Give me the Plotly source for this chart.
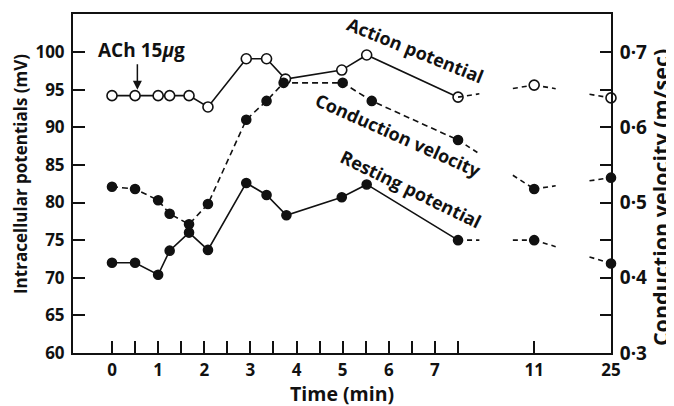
import numpy as np
import plotly.graph_objects as go

# ---------------- data ----------------
action_t = [0, 0.5, 1, 1.25, 1.67, 2.08, 2.91, 3.35, 3.76, 4.98, 5.52, 7.5, 11, 25]
action_mv = [94.2, 94.2, 94.2, 94.2, 94.2, 92.7, 99.1, 99.1, 96.4, 97.6, 99.6, 94.0, 95.6, 93.9]

cv_t = [0, 0.5, 1, 1.25, 1.67, 2.08, 2.91, 3.35, 3.72, 5.0, 5.63, 7.5, 11, 25]
cv_ms = [0.521, 0.518, 0.503, 0.485, 0.471, 0.498, 0.610, 0.635, 0.659, 0.659, 0.635, 0.583, 0.518, 0.533]

rest_t = [0, 0.5, 1, 1.25, 1.67, 2.08, 2.91, 3.35, 3.78, 4.98, 5.52, 7.5, 11, 25]
rest_mv = [72.0, 72.0, 70.4, 73.6, 76.0, 73.7, 82.6, 81.0, 78.3, 80.7, 82.4, 75.0, 75.0, 71.9]

x_tick_minutes = [0, 1, 2, 3, 4, 5, 6, 7, 11, 25]
x_tick_labels = ["0", "1", "2", "3", "4", "5", "6", "7", "11", "25"]
x_minor_minutes = [0.5, 1.5, 2.5, 3.5, 4.5, 5.5, 6.5, 7.5]
left_ticks = [60, 65, 70, 75, 80, 85, 90, 95, 100]
right_ticks = [0.3, 0.4, 0.5, 0.6, 0.7]
right_tick_labels = ["0·3", "0·4", "0·5", "0·6", "0·7"]
right_minor = [0.35, 0.45, 0.55, 0.65]

# broken time axis: linear up to 7.5 min, then compressed
BREAK_T = 7.5
def tpos(t):
    return np.interp(np.asarray(t, dtype=float), [0, 7.5, 11, 25], [0, 7.5, 9.15, 10.815])

FONT = "Open Sans"
BLACK = "#111111"

fig = go.Figure()

def add_series(t, v, yaxis, line_dash, open_marker):
    t = np.asarray(t, dtype=float)
    v = np.asarray(v, dtype=float)
    p = tpos(t)
    main = t <= BREAK_T
    marker = dict(symbol="circle", size=10 if open_marker else 9,
                  color="white" if open_marker else BLACK,
                  line=dict(color=BLACK, width=1.6))
    fig.add_trace(go.Scatter(x=p[main], y=v[main], mode="lines+markers", yaxis=yaxis,
                             line=dict(color=BLACK, width=1.6, dash=line_dash),
                             marker=marker, showlegend=False, hoverinfo="skip"))
    # broken part: short dashed stubs at both ends of each segment past the break
    idx = np.where(t >= BREAK_T)[0]
    f = 0.28
    sx, sy = [], []
    for a, b in zip(idx[:-1], idx[1:]):
        sx += [p[a], p[a] + f * (p[b] - p[a]), None, p[b] - f * (p[b] - p[a]), p[b], None]
        sy += [v[a], v[a] + f * (v[b] - v[a]), None, v[b] - f * (v[b] - v[a]), v[b], None]
    fig.add_trace(go.Scatter(x=sx, y=sy, mode="lines", yaxis=yaxis,
                             line=dict(color=BLACK, width=1.6, dash="5px,4px"),
                             showlegend=False, hoverinfo="skip"))
    late = t > BREAK_T
    fig.add_trace(go.Scatter(x=p[late], y=v[late], mode="markers", yaxis=yaxis,
                             marker=marker, showlegend=False, hoverinfo="skip",
                             cliponaxis=False))

add_series(cv_t, cv_ms, "y2", "6px,4px", False)
add_series(rest_t, rest_mv, "y", "solid", False)
add_series(action_t, action_mv, "y", "solid", True)

def lf(size):
    return dict(family=FONT, size=size, color=BLACK, weight="bold")

# the page body adds an 8px offset, so the figure is drawn 8px smaller
fig.update_layout(
    width=666, height=398,
    margin=dict(l=65, r=63, t=6, b=53),
    paper_bgcolor="white", plot_bgcolor="white",
    showlegend=False,
    xaxis=dict(
        range=[-0.845, 10.815], automargin=False,
        tickvals=list(tpos(x_tick_minutes)), ticktext=x_tick_labels,
        ticks="inside", ticklen=12, tickwidth=1.6, tickcolor=BLACK,
        minor=dict(tickvals=list(tpos(x_minor_minutes)), ticks="inside", ticklen=12,
                   tickwidth=1.6, tickcolor=BLACK),
        showline=True, linecolor=BLACK, linewidth=2, mirror=True,
        showgrid=False, zeroline=False, tickfont=lf(17),
        ticklabelstandoff=1,
    ),
    yaxis=dict(
        range=[60, 105.05], automargin=False,
        tickvals=left_ticks,
        ticks="inside", ticklen=12, tickwidth=1.6, tickcolor=BLACK,
        showline=True, linecolor=BLACK, linewidth=2,
        showgrid=False, zeroline=False, tickfont=lf(17),
        ticklabelstandoff=3,
    ),
    yaxis2=dict(
        range=[0.3, 0.7505], overlaying="y", side="right", automargin=False,
        tickvals=right_ticks, ticktext=right_tick_labels,
        ticks="inside", ticklen=11, tickwidth=1.6, tickcolor=BLACK,
        minor=dict(tickvals=right_minor, ticks="inside", ticklen=11, tickwidth=1.6,
                   tickcolor=BLACK),
        showline=True, linecolor=BLACK, linewidth=2,
        showgrid=False, zeroline=False, tickfont=lf(19),
        ticklabelstandoff=3,
    ),
)

annotations = [
    dict(text="Intracellular potentials (mV)", x=-0.0985, y=0.528, xref="paper", yref="paper",
         xanchor="center", yanchor="middle",
         textangle=-90, showarrow=False, font=lf(17)),
    dict(text="Conduction velocity (m/sec)", x=1.0911, y=0.457, xref="paper", yref="paper",
         xanchor="center", yanchor="middle",
         textangle=-90, showarrow=False, font=lf(21.5)),
    dict(text="Time (min)", x=0.5, y=-0.119, xref="paper", yref="paper",
         xanchor="center", yanchor="middle",
         showarrow=False, font=lf(19.5)),
    dict(text="Action potential", x=6.57, y=100.3, xref="x", yref="y",
         textangle=22, showarrow=False, font=lf(18)),
    dict(text="Conduction velocity", x=6.2, y=89.0, xref="x", yref="y",
         textangle=24, showarrow=False, font=lf(18)),
    dict(text="Resting potential", x=6.48, y=81.8, xref="x", yref="y",
         textangle=26, showarrow=False, font=lf(18)),
    dict(text="ACh 15<i>μ</i>g", x=0.65, y=100.3, xref="x", yref="y",
         showarrow=False, font=lf(19)),
    dict(text="", x=0.55, y=95.0, xref="x", yref="y", ax=0, ay=-27,
         showarrow=True, arrowhead=2, arrowsize=1.2, arrowwidth=1.5, arrowcolor=BLACK),
]
fig.update_layout(annotations=annotations)

fig.write_html("out.html")
